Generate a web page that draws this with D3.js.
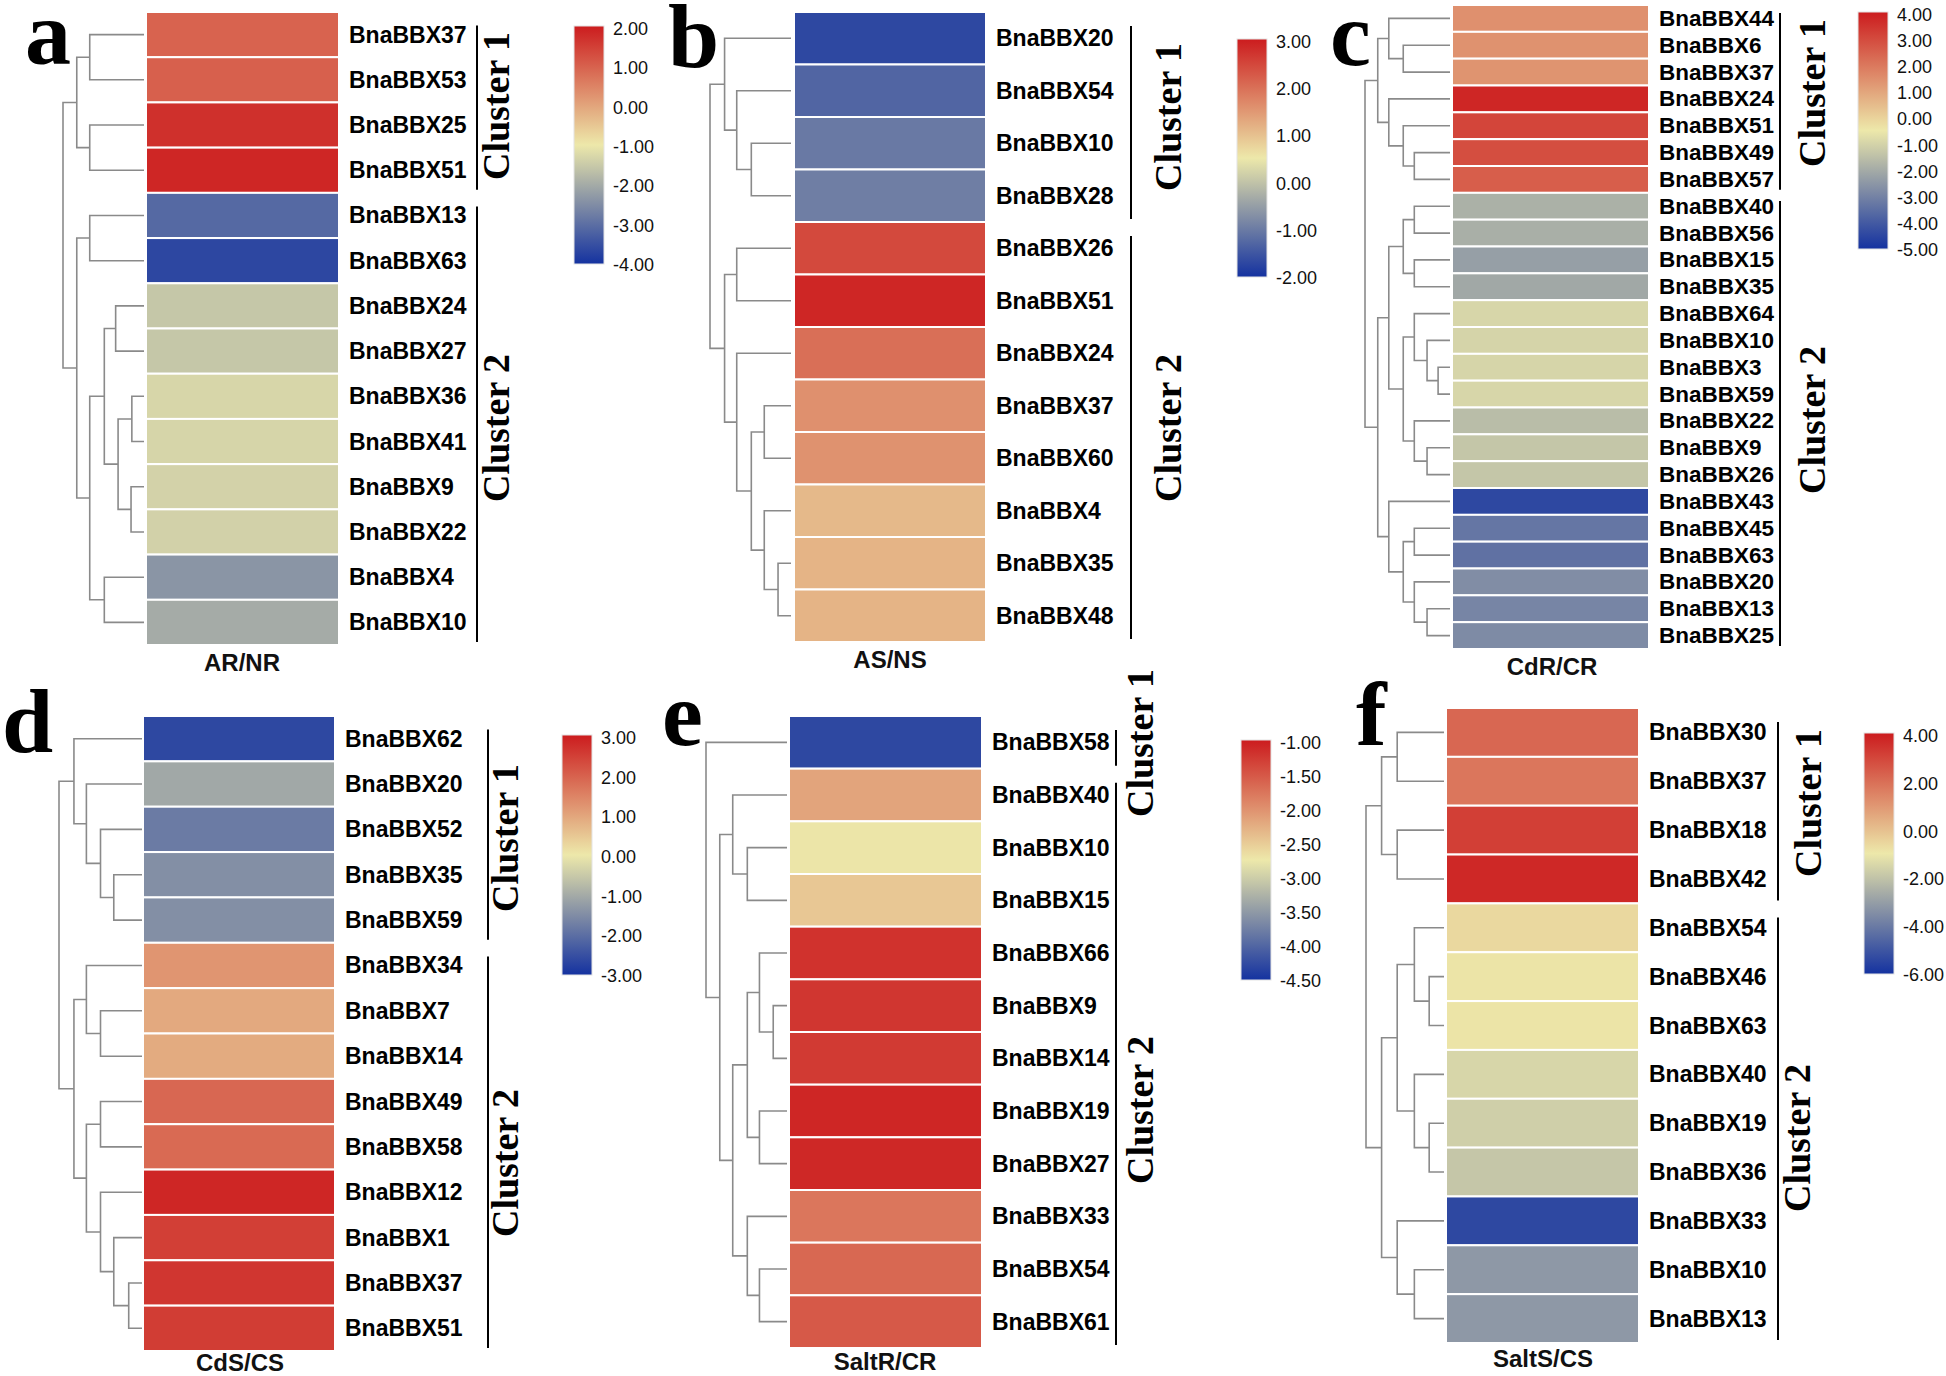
<!DOCTYPE html>
<html>
<head>
<meta charset="utf-8">
<script src="https://cdn.jsdelivr.net/npm/d3@7/dist/d3.min.js"></script>
<style>
  body { margin: 0; background: #fff; }
  text { font-family: "Liberation Sans", Arial, sans-serif; }
</style>
</head>
<body>
<svg id="chart"></svg>
<script>
// ---- data, one block per panel ----
// trees: [mergeHeight, left, right], leaves are BnaBBX numbers

// a  AR/NR
const genesA = [37, 53, 25, 51, 13, 63, 24, 27, 36, 41, 9, 22, 4, 10];
const valuesA = [0.95, 1.0, 1.7, 1.85, -3.1, -3.65, -1.55, -1.55, -1.3, -1.32, -1.36, -1.38, -2.37, -2.0];
const treeA = [1, [0.83, [0.67, 37, 53], [0.67, 25, 51]],
  [0.83, [0.67, 13, 63], [0.67, [0.49, [0.35, 24, 27], [0.32, [0.15, 36, 41], [0.16, 9, 22]]], [0.49, 4, 10]]]];
const ticksA = [2, 1, 0, -1, -2, -3, -4];

// b  AS/NS
const genesB = [20, 54, 10, 28, 26, 51, 24, 37, 60, 4, 35, 48];
const valuesB = [-1.7, -1.3, -1.02, -0.95, 2.45, 2.88, 1.98, 1.58, 1.55, 1.08, 1.14, 1.14];
const treeB = [1, [0.82, 20, [0.67, 54, [0.49, 10, 28]]],
  [0.82, [0.67, 26, 51], [0.67, 24, [0.49, [0.33, 37, 60], [0.33, 4, [0.16, 35, 48]]]]]];
const ticksB = [3, 2, 1, 0, -1, -2];

// c  CdR/CR
const genesC = [44, 6, 37, 24, 51, 49, 57, 40, 56, 15, 35, 64, 10, 3, 59, 22, 9, 26, 43, 45, 63, 20, 13, 25];
const valuesC = [1.44, 1.4, 1.35, 3.78, 3.1, 2.9, 2.55, -1.87, -1.9, -2.3, -2.08, -0.95, -1.0, -0.97, -0.95,
  -1.57, -1.35, -1.35, -4.46, -3.33, -3.43, -2.75, -2.95, -2.8];
const treeC = [1, [0.85, [0.72, 44, [0.55, 6, 37]], [0.72, 24, [0.55, 51, [0.42, 49, 57]]]],
  [0.85, [0.72, [0.55, [0.42, 40, 56], [0.42, 15, 35]], [0.55, [0.42, 64, [0.27, 10, [0.14, 3, 59]]], [0.42, 22, [0.27, 9, 26]]]],
    [0.72, 43, [0.55, [0.42, 45, 63], [0.42, 20, [0.27, 13, 25]]]]]];
const ticksC = [4, 3, 2, 1, 0, -1, -2, -3, -4, -5];

// d  CdS/CS
const genesD = [62, 20, 52, 35, 59, 34, 7, 14, 49, 58, 12, 1, 37, 51];
const valuesD = [-2.64, -1.05, -1.8, -1.47, -1.47, 1.22, 0.92, 0.9, 1.89, 1.86, 2.85, 2.48, 2.62, 2.52];
const treeD = [1, [0.82, 62, [0.67, 20, [0.5, 52, [0.34, 35, 59]]]],
  [0.82, [0.67, 34, [0.5, 7, 14]], [0.67, [0.5, 49, 58], [0.5, 12, [0.34, 1, [0.16, 37, 51]]]]]];
const ticksD = [3, 2, 1, 0, -1, -2, -3];

// e  SaltR/CR
const genesE = [58, 40, 10, 15, 66, 9, 14, 19, 27, 33, 54, 61];
const valuesE = [-4.29, -2.17, -2.72, -2.47, -1.19, -1.22, -1.26, -1.09, -1.1, -1.77, -1.65, -1.52];
const treeE = [1, 58, [0.83, [0.67, 40, [0.49, 10, 15]],
  [0.67, [0.49, [0.34, 66, [0.17, 9, 14]], [0.34, 19, 27]], [0.49, 33, [0.34, 54, 61]]]]];
const ticksE = [-1, -1.5, -2, -2.5, -3, -3.5, -4, -4.5];

// f  SaltS/CS
const genesF = [30, 37, 18, 42, 54, 46, 63, 40, 19, 36, 33, 10, 13];
const valuesF = [2.15, 1.8, 3.13, 3.7, -0.6, -0.9, -0.9, -1.5, -1.7, -1.93, -5.4, -3.2, -3.2];
const treeF = [1, [0.8, [0.6, 30, 37], [0.6, 18, 42]],
  [0.8, [0.6, [0.38, 54, [0.19, 46, 63]], [0.38, 40, [0.19, 19, 36]]], [0.6, 33, [0.38, 10, 13]]]];
const ticksF = [4, 2, 0, -2, -4, -6];

const conditions = ["AR/NR", "AS/NS", "CdR/CR", "CdS/CS", "SaltR/CR", "SaltS/CS"];
const panelLetters = ["a", "b", "c", "d", "e", "f"];
const clusterNames = ["Cluster 1", "Cluster 2"];
const clusterSizes = [4, 4, 7, 5, 1, 4];

// ---- layout (pixels) ----
const layout = [
  { hx: [146, 339], hy: [12, 645], root: 63, leaf: 144, line: 477, cb: [574, 26, 264], col: [242, 662], letter: [25, 64], clx: [496, 496], cly: [106, 428], fs: 23 },
  { hx: [794, 986], hy: [12, 642], root: 710, leaf: 791, line: 1131, cb: [1237, 39, 277], col: [890, 659], letter: [668, 67], clx: [1168, 1168], cly: [117, 428], fs: 23 },
  { hx: [1452, 1649], hy: [5, 649], root: 1365, leaf: 1450, line: 1780, cb: [1858, 12, 249], col: [1552, 666], letter: [1330, 65], clx: [1812, 1812], cly: [93, 420], fs: 22.5 },
  { hx: [143, 335], hy: [716, 1351], root: 59, leaf: 142, line: 488, cb: [562, 735, 975], col: [240, 1362], letter: [2, 752], clx: [505, 505], cly: [838, 1163], fs: 23 },
  { hx: [789, 982], hy: [716, 1348], root: 706, leaf: 787, line: 1116, cb: [1241, 740, 980], col: [885, 1361], letter: [662, 745], clx: [1140, 1140], cly: [743, 1110], fs: 23 },
  { hx: [1446, 1639], hy: [708, 1343], root: 1366, leaf: 1444, line: 1778, cb: [1864, 733, 974], col: [1543, 1358], letter: [1356, 745], clx: [1808, 1797], cly: [803, 1138], fs: 23 }
];

const panels = [
  [genesA, valuesA, treeA, ticksA], [genesB, valuesB, treeB, ticksB], [genesC, valuesC, treeC, ticksC],
  [genesD, valuesD, treeD, ticksD], [genesE, valuesE, treeE, ticksE], [genesF, valuesF, treeF, ticksF]
];

const width = 1946, height = 1376;
const svg = d3.select("#chart").attr("width", width).attr("height", height);
const defs = svg.append("defs");

const LOW = "rgb(20,50,160)", MID = "rgb(237,232,170)", HIGH = "rgb(204,28,30)";
const fmt = d => d3.format(".2f")(d).replace("\u2212", "-");

panels.forEach(([genes, values, tree, ticks], i) => {
  const L = layout[i];
  const g = svg.append("g");
  const names = genes.map(n => "BnaBBX" + n);

  const hi = d3.max(ticks), lo = d3.min(ticks);
  const color = d3.scaleLinear().domain([lo, (lo + hi) / 2, hi]).range([LOW, MID, HIGH]).interpolate(d3.interpolateRgb);

  const y = d3.scaleBand().domain(names).range(L.hy);
  const bw = y.bandwidth();

  // heatmap
  g.selectAll("rect.cell")
    .data(names)
    .join("rect")
    .attr("class", "cell")
    .attr("x", L.hx[0])
    .attr("y", d => y(d))
    .attr("width", L.hx[1] - L.hx[0])
    .attr("height", bw)
    .attr("fill", (d, k) => color(values[k]))
    .attr("stroke", "#fff")
    .attr("stroke-width", 2);

  // row labels
  g.selectAll("text.gene")
    .data(names)
    .join("text")
    .attr("x", L.hx[1] + 10)
    .attr("y", d => y(d) + bw / 2)
    .attr("dominant-baseline", "central")
    .style("font-size", L.fs + "px")
    .style("font-weight", "bold")
    .attr("fill", "#000")
    .text(d => d);

  // dendrogram
  const root = d3.hierarchy(tree, d => Array.isArray(d) ? d.slice(1) : null);
  const xh = d3.scaleLinear().domain([0, 1]).range([L.leaf, L.root]);
  root.eachAfter(n => {
    if (n.children) {
      n.px = xh(n.data[0]);
      n.py = d3.mean(n.children, c => c.py);
    } else {
      n.px = L.leaf;
      n.py = y("BnaBBX" + n.data) + bw / 2;
    }
  });
  g.selectAll("path.link")
    .data(root.descendants().filter(n => n.children))
    .join("path")
    .attr("d", n => {
      const [a, b] = n.children;
      return `M${a.px},${a.py}H${n.px}V${b.py}H${b.px}`;
    })
    .attr("fill", "none")
    .attr("stroke", "#8a8a8a")
    .attr("stroke-width", 1.6);

  // cluster brackets
  const k1 = clusterSizes[i];
  const groups = [names.slice(0, k1), names.slice(k1)];
  groups.forEach((grp, j) => {
    const top = y(grp[0]) + Math.min(14, bw * 0.3);
    const bot = y(grp[grp.length - 1]) + bw - 3;
    g.append("line")
      .attr("x1", L.line).attr("x2", L.line)
      .attr("y1", top).attr("y2", bot)
      .attr("stroke", "#000").attr("stroke-width", 2);
    g.append("text")
      .attr("transform", `translate(${L.clx[j]},${L.cly[j]}) rotate(-90)`)
      .attr("text-anchor", "middle")
      .attr("dominant-baseline", "central")
      .style("font-family", "'Liberation Serif', 'Times New Roman', serif")
      .style("font-weight", "bold")
      .style("font-size", "38px")
      .text(clusterNames[j]);
  });

  // column label
  g.append("text")
    .attr("x", L.col[0]).attr("y", L.col[1])
    .attr("text-anchor", "middle")
    .attr("dominant-baseline", "central")
    .style("font-size", "24px")
    .style("font-weight", "bold")
    .attr("fill", "#111")
    .text(conditions[i]);

  // panel letter
  g.append("text")
    .attr("x", L.letter[0]).attr("y", L.letter[1])
    .style("font-family", "'Liberation Serif', 'Times New Roman', serif")
    .style("font-weight", "bold")
    .style("font-size", "92px")
    .text(panelLetters[i]);

  // colour bar
  const [cx, cy0, cy1] = L.cb;
  const gid = "grad" + i;
  const grad = defs.append("linearGradient").attr("id", gid)
    .attr("x1", 0).attr("y1", 0).attr("x2", 0).attr("y2", 1);
  d3.range(0, 1.0001, 0.05).forEach(t => {
    grad.append("stop").attr("offset", t).attr("stop-color", color(hi - t * (hi - lo)));
  });
  g.append("rect")
    .attr("x", cx).attr("y", cy0)
    .attr("width", 30).attr("height", cy1 - cy0)
    .attr("fill", `url(#${gid})`)
    .attr("stroke", "#e4e4e4").attr("stroke-width", 1);
  const yc = d3.scaleLinear().domain([hi, lo]).range([cy0 + 3, cy1 + 1]);
  g.selectAll("text.tick")
    .data(ticks)
    .join("text")
    .attr("x", cx + 39)
    .attr("y", d => yc(d))
    .attr("dominant-baseline", "central")
    .style("font-size", "18px")
    .attr("fill", "#111")
    .text(fmt);
});
</script>
</body>
</html>
